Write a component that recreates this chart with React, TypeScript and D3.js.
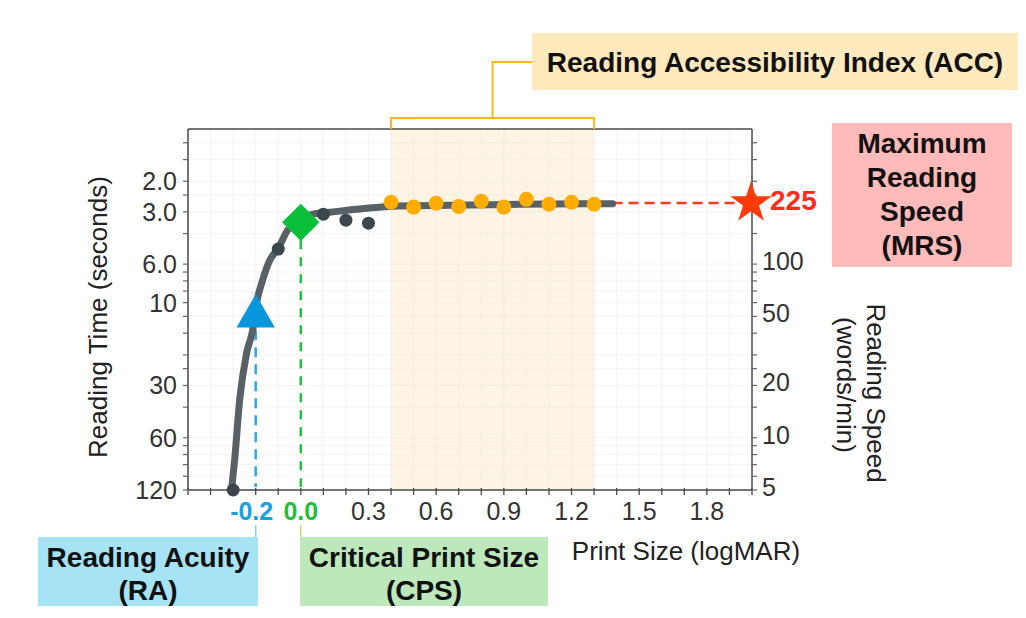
import React from "react";
import * as d3 from "d3";

// ---- data ----
const curveX = [-0.307, -0.293, -0.271, -0.24, -0.213, -0.196, -0.169, -0.138, -0.102, -0.058, 0.004, 0.053, 0.129, 0.249, 0.396, 0.662, 0.973, 1.382];
const curveSpeed = [5, 7.5, 16.5, 30.8, 41.8, 59.7, 81, 105, 122, 157, 179, 194, 199, 207, 215, 218, 221, 223];
const grayX = [-0.3, -0.1, 0.1, 0.2, 0.3];
const graySpeed = [5, 122, 194, 179, 172];
const accX = [0.4, 0.5, 0.6, 0.7, 0.8, 0.9, 1.0, 1.1, 1.2, 1.3];
const accSpeed = [227, 213, 224, 215, 230, 213, 236, 221, 227, 221];
const raPoint = { x: -0.2, speed: 50 };
const cpsPoint = { x: 0.0, speed: 174 };
const mrsValue = 225;
const accRange = [0.4, 1.3];
const xLabelTicks = [-0.2, 0.0, 0.3, 0.6, 0.9, 1.2, 1.5, 1.8];
const speedTicks = [500, 400, 300, 250, 200, 150, 100, 90, 80, 70, 60, 50, 40, 30, 25, 20, 15, 10, 9, 8, 7, 6, 5];
const timeLabels = [2, 3, 6, 10, 30, 60, 120];
const timeLabelText = ["2.0", "3.0", "6.0", "10", "30", "60", "120"];
const speedLabels = [100, 50, 20, 10, 5];

const FONT = "'Liberation Sans', Arial, Helvetica, sans-serif";

export default function App() {
  const x = d3.scaleLinear().domain([-0.5, 2.0]).range([188, 752]);
  const y = d3.scaleLog().domain([600, 5]).range([129, 490]);
  const [x0, x1] = x.range();
  const [yTop, yBot] = y.range();
  const minorX = d3.range(-5, 21).map((i) => i / 10);

  const line = d3
    .line<number>()
    .x((_, i) => x(curveX[i]))
    .y((_, i) => y(curveSpeed[i]))
    .curve(d3.curveMonotoneX);

  const tri = d3.symbol().type(d3.symbolTriangle).size(640)();
  const sq = d3.symbol().type(d3.symbolSquare).size(700)();
  const star = d3.symbol().type(d3.symbolStar).size(540)();

  const axisColor = "#4a4a4a";
  const tickColor = "#333";
  const TICK_FS = 25;
  const TITLE_FS = 26;
  const BOX_FS = 28;

  return (
    <svg width={1026} height={618} style={{ position: "absolute", left: 0, top: 0 }} fontFamily={FONT}>
      <rect width={1026} height={618} fill="#fff" />
      {/* ACC shading */}
      <rect x={x(accRange[0])} y={yTop} width={x(accRange[1]) - x(accRange[0])} height={yBot - yTop} fill="#fdf4e3" />
      {/* grid */}
      {minorX.map((v) => (
        <line key={"gx" + v} x1={x(v)} x2={x(v)} y1={yTop} y2={yBot} stroke="#e6e6e6" strokeOpacity={0.45} strokeWidth={1} />
      ))}
      {speedTicks.map((v) => (
        <line key={"gy" + v} x1={x0} x2={x1} y1={y(v)} y2={y(v)} stroke="#e6e6e6" strokeOpacity={0.45} strokeWidth={1} />
      ))}
      {/* frame */}
      <line x1={x0} x2={x1} y1={yTop} y2={yTop} stroke={axisColor} strokeWidth={1.5} />
      <line x1={x0} x2={x0} y1={yTop} y2={yBot} stroke={axisColor} strokeWidth={1.5} />
      <line x1={x1} x2={x1} y1={yTop} y2={yBot} stroke={axisColor} strokeWidth={1.5} />
      <line x1={x0} x2={x1} y1={yBot} y2={yBot} stroke={axisColor} strokeWidth={1.5} />
      {/* ticks */}
      {minorX.map((v) => (
        <line key={"tx" + v} x1={x(v)} x2={x(v)} y1={yBot - 2} y2={yBot + 5} stroke={axisColor} strokeWidth={1.3} />
      ))}
      {speedTicks.map((v) => (
        <g key={"ty" + v}>
          <line x1={x0 - 5} x2={x0} y1={y(v)} y2={y(v)} stroke="#666" strokeWidth={1.2} />
          <line x1={x1} x2={x1 + 5} y1={y(v)} y2={y(v)} stroke="#666" strokeWidth={1.2} />
        </g>
      ))}
      {/* x tick labels */}
      {xLabelTicks.map((v) => {
        const col = v === -0.2 ? "#1a9fe0" : v === 0 ? "#1fbf3a" : tickColor;
        const bold = v === -0.2 || v === 0;
        return (
          <text key={"xl" + v} x={x(v) - (v < 0 ? 4 : 0)} y={511} textAnchor="middle" dominantBaseline="central" fontSize={TICK_FS} fill={col} fontWeight={bold ? "bold" : "normal"}>
            {v.toFixed(1)}
          </text>
        );
      })}
      {/* left labels */}
      {timeLabels.map((t, i) => (
        <text key={"ll" + t} x={177} y={y(600 / t)} textAnchor="end" dominantBaseline="central" fontSize={TICK_FS} fill={tickColor}>
          {timeLabelText[i]}
        </text>
      ))}
      {/* right labels */}
      {speedLabels.map((s) => (
        <text key={"rl" + s} x={762} y={y(s) - 3} textAnchor="start" dominantBaseline="central" fontSize={TICK_FS} fill={tickColor}>
          {s}
        </text>
      ))}
      <text x={770} y={y(mrsValue) - 2} dominantBaseline="central" fontSize={BOX_FS} fontWeight="bold" fill="#ff2a1a">
        {mrsValue}
      </text>
      {/* dashed guide lines */}
      <line x1={x(raPoint.x)} x2={x(raPoint.x)} y1={y(raPoint.speed) + 14} y2={yBot - 3} stroke="#2aa8ec" strokeWidth={2.5} strokeDasharray="10,7" />
      <line x1={x(cpsPoint.x)} x2={x(cpsPoint.x)} y1={y(cpsPoint.speed) + 18} y2={yBot - 3} stroke="#22c040" strokeWidth={2.5} strokeDasharray="9,8" />
      <line x1={x(curveX[curveX.length - 1])} x2={x(2.0) - 14} y1={y(mrsValue)} y2={y(mrsValue)} stroke="#ff3b1f" strokeWidth={2.5} strokeDasharray="10,6" />
      {/* fitted curve */}
      <path d={line(curveX) || ""} fill="none" stroke="#586165" strokeWidth={7} strokeLinecap="round" strokeLinejoin="round" />
      {/* gray points */}
      {grayX.map((v, i) => (
        <circle key={"g" + i} cx={x(v)} cy={y(graySpeed[i])} r={6.5} fill="#3c474d" />
      ))}
      {/* acc points */}
      {accX.map((v, i) => (
        <circle key={"a" + i} cx={x(v)} cy={y(accSpeed[i])} r={7.5} fill="#ffad00" />
      ))}
      {/* markers */}
      <path d={tri || ""} transform={`translate(${x(raPoint.x)},${y(raPoint.speed)})`} fill="#0a96dc" />
      <path d={sq || ""} transform={`translate(${x(cpsPoint.x)},${y(cpsPoint.speed)}) rotate(45)`} fill="#0cbf3a" />
      <path d={star || ""} transform={`translate(${x(2.0) - 1},${y(mrsValue)})`} fill="#ff3a0a" />
      {/* ACC bracket */}
      <polyline points={`${x(accRange[0])},${yTop} ${x(accRange[0])},118 ${x(accRange[1])},118 ${x(accRange[1])},${yTop}`} fill="none" stroke="#ffb522" strokeWidth={2} />
      <polyline points={`${(x(accRange[0]) + x(accRange[1])) / 2},118 ${(x(accRange[0]) + x(accRange[1])) / 2},62 532,62`} fill="none" stroke="#ffb522" strokeWidth={2} />
      <rect x={532} y={33} width={486} height={57} fill="#ffe9bd" />
      <text x={775} y={62} textAnchor="middle" dominantBaseline="central" fontSize={BOX_FS} fontWeight="bold" fill="#111">
        Reading Accessibility Index (ACC)
      </text>
      {/* MRS box */}
      <rect x={832} y={123} width={180} height={144} fill="#ffbaba" />
      {["Maximum", "Reading", "Speed", "(MRS)"].map((s, i) => (
        <text key={s} x={922} y={143 + i * 34} textAnchor="middle" dominantBaseline="central" fontSize={BOX_FS} fontWeight="bold" fill="#111">
          {s}
        </text>
      ))}
      {/* RA / CPS boxes */}
      <line x1={x(raPoint.x)} x2={x(raPoint.x)} y1={525} y2={537} stroke="#7fd3ef" strokeWidth={1.5} />
      <line x1={x(cpsPoint.x)} x2={x(cpsPoint.x)} y1={525} y2={537} stroke="#c5df6a" strokeWidth={1.5} />
      <rect x={38} y={537} width={220} height={69} fill="#a6e3f5" />
      <text x={148} y={557} textAnchor="middle" dominantBaseline="central" fontSize={BOX_FS} fontWeight="bold" fill="#111">Reading Acuity</text>
      <text x={148} y={590} textAnchor="middle" dominantBaseline="central" fontSize={BOX_FS} fontWeight="bold" fill="#111">(RA)</text>
      <rect x={300} y={537} width={248} height={69} fill="#bde8bc" />
      <text x={424} y={557} textAnchor="middle" dominantBaseline="central" fontSize={BOX_FS} fontWeight="bold" fill="#111">Critical Print Size</text>
      <text x={424} y={590} textAnchor="middle" dominantBaseline="central" fontSize={BOX_FS} fontWeight="bold" fill="#111">(CPS)</text>
      {/* axis titles */}
      <text x={686} y={551} textAnchor="middle" dominantBaseline="central" fontSize={TITLE_FS} fill="#222">Print Size (logMAR)</text>
      <text transform="translate(98,317) rotate(-90)" textAnchor="middle" dominantBaseline="central" fontSize={TITLE_FS} fill="#222">Reading Time (seconds)</text>
      <text transform="translate(876,393) rotate(90)" textAnchor="middle" dominantBaseline="central" fontSize={TITLE_FS} fill="#222">Reading Speed</text>
      <text transform="translate(846,385) rotate(90)" textAnchor="middle" dominantBaseline="central" fontSize={TITLE_FS} fill="#222">(words/min)</text>
    </svg>
  );
}
